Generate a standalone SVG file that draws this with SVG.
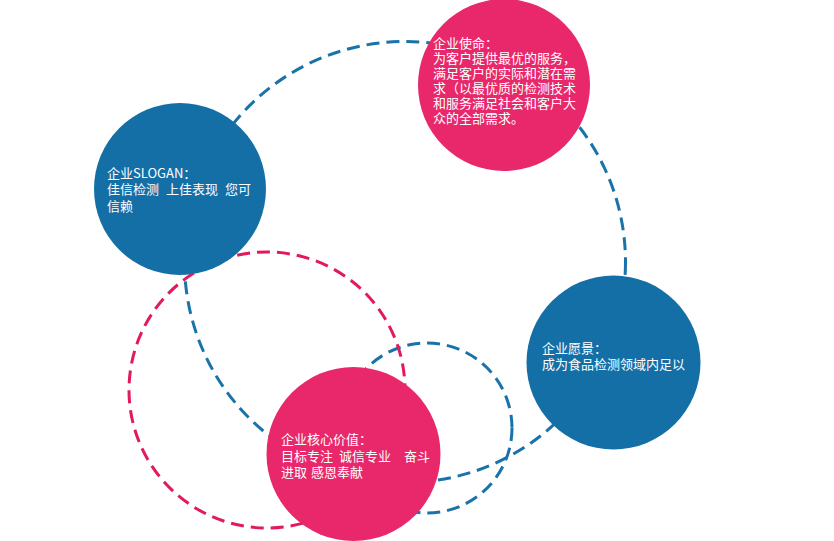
<svg xmlns="http://www.w3.org/2000/svg" width="834" height="541" viewBox="0 0 834 541">
<style>
.bg{fill:#ffffff}
.dash{fill:none;stroke-width:3;stroke-dasharray:13 7}
.db{stroke:#1a72aa}
.dp{stroke:#e2195b}
.blue{fill:#156fa7}
.pink{fill:#e8286a}
text{font-family:"Noto Sans CJK SC","Noto Sans",sans-serif;font-size:13px;fill:#ffffff}
</style>
<rect class="bg" x="0" y="0" width="834" height="541"/>
<g id="connectors">
<circle class="dash db" cx="405" cy="262" r="220.5"/>
<circle class="dash db" cx="427" cy="428" r="85"/>
<circle class="dash dp" cx="267" cy="390" r="138"/>
</g>
<g id="node-mission">
<circle class="pink" cx="504" cy="85" r="86"/>
<text x="433" y="48">企业使命：<tspan x="433" dy="15">为客户提供最优的服务，</tspan><tspan x="433" dy="15">满足客户的实际和潜在需</tspan><tspan x="433" dy="15">求（以最优质的检测技术</tspan><tspan x="433" dy="15">和服务满足社会和客户大</tspan><tspan x="433" dy="15">众的全部需求。</tspan></text>
</g>
<g id="node-slogan">
<circle class="blue" cx="180" cy="189" r="86"/>
<text x="107" y="178">企业SLOGAN：<tspan x="107" dy="16">佳信检测</tspan><tspan x="166">上佳表现</tspan><tspan x="225">您可</tspan><tspan x="107" dy="17">信赖</tspan></text>
</g>
<g id="node-vision">
<circle class="blue" cx="613.5" cy="362.5" r="87"/>
<text x="542" y="353">企业愿景：<tspan x="542" dy="16">成为食品检测领域内足以</tspan></text>
</g>
<g id="node-values">
<circle class="pink" cx="353.5" cy="454" r="87"/>
<text x="281" y="444">企业核心价值：<tspan x="281" dy="17">目标专注</tspan><tspan x="339">诚信专业</tspan><tspan x="404">奋斗</tspan><tspan x="281" dy="16">进取</tspan><tspan x="311">感恩奉献</tspan></text>
</g>
</svg>
